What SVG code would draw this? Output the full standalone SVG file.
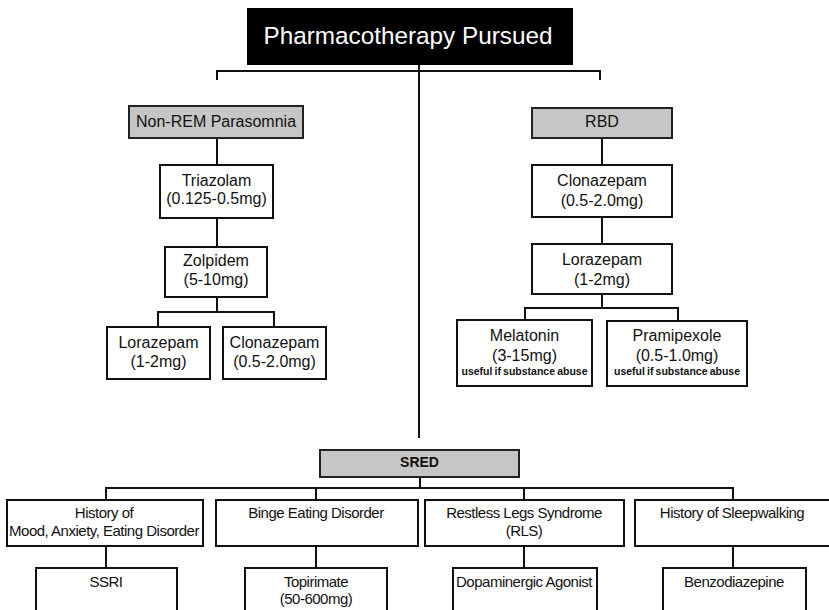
<svg xmlns="http://www.w3.org/2000/svg" width="829" height="610" viewBox="0 0 829 610">
<style>
text{font-family:"Liberation Sans",Arial,sans-serif;text-anchor:middle;fill:#111}
.box{fill:#fff;stroke:#111;stroke-width:2}
.gray{fill:#c6c6c6;stroke:#222;stroke-width:2}
.t16{font-size:16px}
.t14{font-size:15px;letter-spacing:-0.5px}
.sm{font-size:10.5px;font-weight:bold;word-spacing:-0.8px}
.con{fill:none;stroke:#111;stroke-width:2}
</style>
<rect width="829" height="610" fill="#fff"/>
<g id="connectors">
<path class="con" d="M419 65V438"/>
<path class="con" d="M217 80V71H600V80"/>
<path class="con" d="M217 138V165M217 218V247M217 297V312M158 327V312H274V327"/>
<path class="con" d="M602 138V165M602 217V244M602 294V308M525 320V308H678V320"/>
<path class="con" d="M420 477V488M106 500V488H733V500M316 488V500M524 488V500"/>
<path class="con" d="M106 546V568M316 546V568M524 546V568M733 546V568"/>
</g>
<g id="title"><rect x="247" y="8" width="326" height="57" fill="#000"/><text x="408" y="44" style="font-size:24.3px;fill:#fff">Pharmacotherapy Pursued</text></g>
<g id="nonrem"><rect class="gray" x="129" y="106" width="174" height="32"/><text class="t16" x="216" y="127">Non-REM Parasomnia</text></g>
<g id="triazolam"><rect class="box" x="160" y="165" width="113" height="53"/><text class="t16" x="216.5" y="186">Triazolam</text><text class="t16" x="216.5" y="204">(0.125-0.5mg)</text></g>
<g id="zolpidem"><rect class="box" x="165" y="247" width="102" height="50"/><text class="t16" x="216" y="266">Zolpidem</text><text class="t16" x="216" y="285">(5-10mg)</text></g>
<g id="lorazepam-l"><rect class="box" x="107" y="327" width="103" height="52"/><text class="t16" x="158.5" y="348">Lorazepam</text><text class="t16" x="158.5" y="367">(1-2mg)</text></g>
<g id="clonazepam-l"><rect class="box" x="223" y="327" width="103" height="52"/><text class="t16" x="274.5" y="348">Clonazepam</text><text class="t16" x="274.5" y="367">(0.5-2.0mg)</text></g>
<g id="rbd"><rect class="gray" x="532" y="108" width="140" height="30"/><text class="t16" x="602" y="127">RBD</text></g>
<g id="clonazepam-r"><rect class="box" x="532" y="165" width="140" height="52"/><text class="t16" x="602" y="186">Clonazepam</text><text class="t16" x="602" y="206">(0.5-2.0mg)</text></g>
<g id="lorazepam-r"><rect class="box" x="532" y="244" width="140" height="50"/><text class="t16" x="602" y="265">Lorazepam</text><text class="t16" x="602" y="285">(1-2mg)</text></g>
<g id="melatonin"><rect class="box" x="457" y="320" width="135" height="66"/><text class="t16" x="524.5" y="341">Melatonin</text><text class="t16" x="524.5" y="361">(3-15mg)</text><text class="sm" x="524.5" y="375">useful if substance abuse</text></g>
<g id="pramipexole"><rect class="box" x="607" y="321" width="140" height="65"/><text class="t16" x="677" y="341">Pramipexole</text><text class="t16" x="677" y="361">(0.5-1.0mg)</text><text class="sm" x="677" y="375">useful if substance abuse</text></g>
<g id="sred"><rect class="gray" x="320" y="450" width="199" height="27"/><text x="419.5" y="467" style="font-size:14px;font-weight:bold">SRED</text></g>
<g id="mood"><rect class="box" x="7" y="500" width="196" height="46"/><text class="t14" x="104" y="518">History of</text><text class="t14" x="104" y="536">Mood, Anxiety, Eating Disorder</text></g>
<g id="binge"><rect class="box" x="216" y="500" width="202" height="46"/><text class="t14" x="316" y="518">Binge Eating Disorder</text></g>
<g id="rls"><rect class="box" x="425" y="500" width="199" height="46"/><text class="t14" x="524" y="518">Restless Legs Syndrome</text><text class="t14" x="524" y="536">(RLS)</text></g>
<g id="sleepwalking"><rect class="box" x="635" y="500" width="200" height="46"/><text class="t14" x="732" y="518">History of Sleepwalking</text></g>
<g id="ssri"><rect class="box" x="36" y="568" width="141" height="60"/><text class="t14" x="106" y="587">SSRI</text></g>
<g id="topirimate"><rect class="box" x="245" y="568" width="142" height="60"/><text class="t14" x="316" y="587">Topirimate</text><text class="t14" x="316" y="604">(50-600mg)</text></g>
<g id="dopaminergic"><rect class="box" x="453" y="568" width="144" height="60"/><text class="t14" x="524" y="587">Dopaminergic Agonist</text></g>
<g id="benzodiazepine"><rect class="box" x="663" y="568" width="143" height="60"/><text class="t14" x="734" y="587">Benzodiazepine</text></g>
</svg>
